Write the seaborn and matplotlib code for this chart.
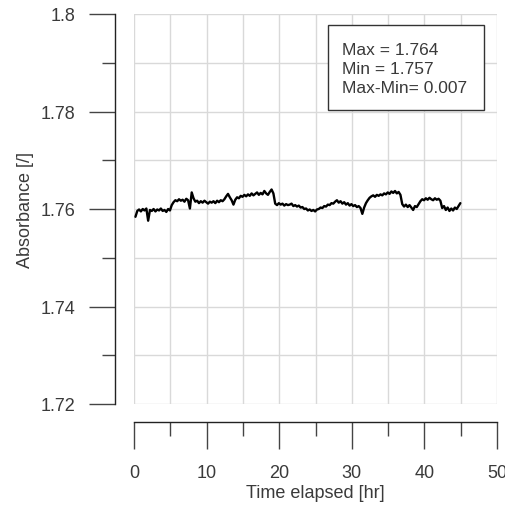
import numpy as np
import pandas as pd
import matplotlib
matplotlib.use("Agg")
import matplotlib.pyplot as plt
from matplotlib.ticker import MultipleLocator
from matplotlib.patches import Rectangle
import seaborn as sns

# absorbance readings, one every 0.25 hr starting at 0.2 hr
absorbance = [
    1.7584, 1.7596, 1.7599, 1.7595, 1.7600, 1.7597, 1.7601, 1.7576,
    1.7598, 1.7596, 1.7600, 1.7595, 1.7599, 1.7597, 1.7601, 1.7596, 1.7598, 1.7594, 1.7600, 1.7597,
    1.7608, 1.7614, 1.7618, 1.7616, 1.7620, 1.7617, 1.7619, 1.7615, 1.7621, 1.7618, 1.7601,
    1.7634, 1.7622, 1.7615,
    1.7617, 1.7612, 1.7616, 1.7613, 1.7617, 1.7614, 1.7611, 1.7615, 1.7613, 1.7616, 1.7612, 1.7617,
    1.7614, 1.7618, 1.7616, 1.7620, 1.7626,
    1.7631, 1.7624, 1.7618, 1.7609, 1.7619,
    1.7624, 1.7622, 1.7627, 1.7625, 1.7629, 1.7626, 1.7630, 1.7627, 1.7632, 1.7628, 1.7631, 1.7634,
    1.7629, 1.7633, 1.7630, 1.7637, 1.7632, 1.7629, 1.7635, 1.7640, 1.7632,
    1.7611, 1.7608, 1.7612, 1.7609, 1.7611, 1.7607, 1.7610, 1.7608, 1.7609, 1.7611, 1.7606, 1.7608,
    1.7605, 1.7607, 1.7603, 1.7604, 1.7600, 1.7601, 1.7597, 1.7599, 1.7596, 1.7598, 1.7595, 1.7599,
    1.7600, 1.7603, 1.7602, 1.7606, 1.7605, 1.7609, 1.7608, 1.7612, 1.7611, 1.7615, 1.7618, 1.7613,
    1.7616, 1.7611, 1.7614, 1.7609, 1.7612, 1.7607, 1.7610, 1.7606, 1.7608, 1.7604, 1.7606, 1.7602,
    1.7590, 1.7603,
    1.7612, 1.7618, 1.7623, 1.7626, 1.7628, 1.7625, 1.7629, 1.7627, 1.7630, 1.7628,
    1.7632, 1.7630, 1.7634, 1.7631, 1.7636, 1.7633, 1.7637, 1.7632, 1.7635, 1.7629,
    1.7610, 1.7605, 1.7609, 1.7604, 1.7608, 1.7603, 1.7598, 1.7606, 1.7604, 1.7610,
    1.7616, 1.7620, 1.7618, 1.7622, 1.7619, 1.7623, 1.7620, 1.7618, 1.7622, 1.7619, 1.7621, 1.7617,
    1.7602, 1.7606, 1.7598, 1.7603, 1.7596, 1.7601, 1.7597, 1.7603, 1.7600, 1.7606, 1.7612,
]
t_start = 0.2
t_step = 0.25
time_hr = t_start + t_step * np.arange(len(absorbance))

stats_text = "Max = 1.764\nMin = 1.757\nMax-Min= 0.007"

df = pd.DataFrame({"time": time_hr, "abs": absorbance})

sns.set_style("white")
plt.rcParams["font.family"] = ["Liberation Sans", "DejaVu Sans"]
txt = "#3a3a3a"

fig = plt.figure(figsize=(5.06, 5.06), dpi=100)
ax = fig.add_axes([134 / 506, 1 - 405 / 506, 363 / 506, 390 / 506])

sns.lineplot(data=df, x="time", y="abs", ax=ax, color="black", lw=1.7, zorder=3)

ax.set_xlim(0, 50)
ax.set_ylim(1.72, 1.80)
ax.xaxis.set_major_locator(MultipleLocator(10))
ax.xaxis.set_minor_locator(MultipleLocator(5))
ax.yaxis.set_major_locator(MultipleLocator(0.02))
ax.yaxis.set_minor_locator(MultipleLocator(0.01))
ax.yaxis.set_major_formatter(plt.FuncFormatter(lambda v, p: f"{v:g}"))

ax.grid(True, which="both", color="#d9d9d9", lw=1.0)
ax.set_axisbelow(True)

for s in ["top", "right"]:
    ax.spines[s].set_visible(False)
ax.spines["left"].set_position(("outward", 19 * 0.72))
ax.spines["bottom"].set_position(("outward", 18 * 0.72))
for s in ["left", "bottom"]:
    ax.spines[s].set_color("#222222")
    ax.spines[s].set_linewidth(1.0)

ax.tick_params(axis="y", which="major", direction="out", length=26 * 0.72, width=1.0,
               color="#444444", pad=10, labelsize=13, labelcolor=txt, left=True)
ax.tick_params(axis="y", which="minor", direction="out", length=13 * 0.72, width=1.0,
               color="#444444", left=True)
ax.tick_params(axis="x", which="major", direction="out", length=27 * 0.72, width=1.0,
               color="#444444", pad=11, labelsize=13, labelcolor=txt, bottom=True)
ax.tick_params(axis="x", which="minor", direction="out", length=14 * 0.72, width=1.0,
               color="#444444", bottom=True)

ax.set_xlabel("Time elapsed [hr]", fontsize=13, color=txt)
ax.set_ylabel("Absorbance [/]", fontsize=13, color=txt)
ax.xaxis.set_label_coords(0.5, -0.205)
ax.yaxis.set_label_coords(-0.276, 0.5)

# stats box
ax.add_patch(Rectangle((0.534, 0.754), 0.430, 0.218, transform=ax.transAxes,
                       fc="white", ec="#333333", lw=1.0, zorder=4))
ax.text((342 - 134) / 363, (405 - 43) / 390, stats_text, transform=ax.transAxes,
        fontsize=12.5, color=txt, va="top", ha="left", linespacing=1.34, zorder=5)

fig.savefig("out.png", dpi=100)
